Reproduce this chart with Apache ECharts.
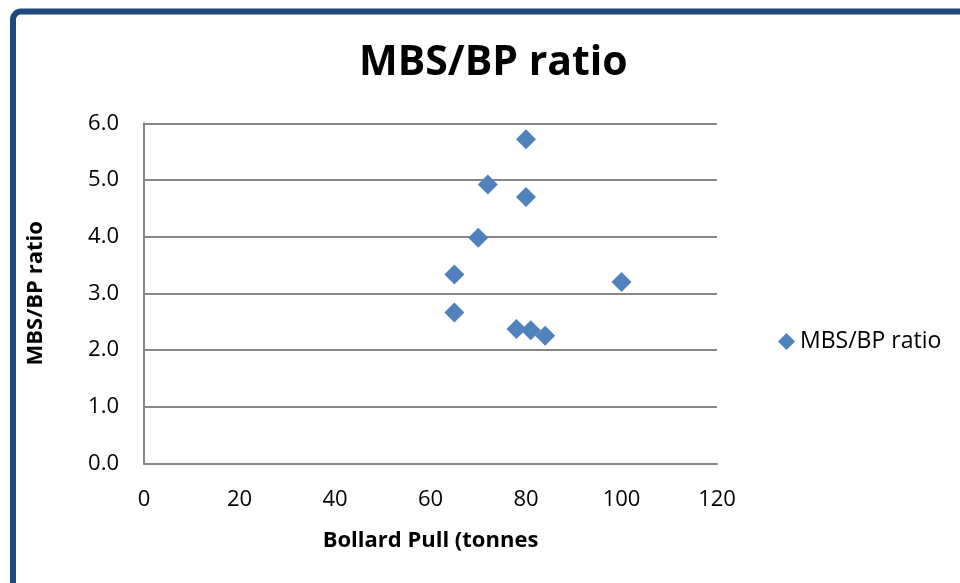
<!DOCTYPE html>
<html>
<head>
<meta charset="utf-8">
<script src="https://cdn.jsdelivr.net/npm/echarts@6/dist/echarts.min.js"></script>
<style>html,body{margin:0;padding:0;background:#fff}#c{width:960px;height:583px}</style>
</head>
<body>
<div id="c"></div>
<script>
const bollardPull = [80, 72, 80, 70, 65, 100, 65, 78, 81, 84];
const mbsBpRatio = [5.72, 4.92, 4.70, 3.98, 3.33, 3.20, 2.66, 2.37, 2.35, 2.25];
const seriesName = 'MBS/BP ratio';
const chartTitle = 'MBS/BP ratio';
const xAxisTitle = 'Bollard Pull (tonnes';
const yAxisTitle = 'MBS/BP ratio';

const FONT = 'Open Sans';
const chart = echarts.init(document.getElementById('c'));
chart.setOption({
  animation: false,
  backgroundColor: '#fff',
  textStyle: { fontFamily: FONT },
  graphic: [{
    type: 'rect',
    shape: { x: 13, y: 11.5, width: 1000, height: 700, r: 8 },
    style: { fill: 'none', stroke: '#1F497D', lineWidth: 6 },
    z: 100
  }],
  title: {
    text: chartTitle,
    left: 359,
    top: 43,
    padding: 0,
    textStyle: { fontFamily: FONT, fontSize: 41, fontWeight: 'bold', color: '#000' }
  },
  legend: {
    orient: 'vertical',
    left: 773,
    top: 325,
    itemWidth: 17,
    itemHeight: 17,
    itemGap: 5,
    textStyle: { fontFamily: FONT, fontSize: 23, color: '#000' },
    data: [{ name: seriesName, icon: 'diamond' }]
  },
  grid: { left: 144, right: 243, top: 123.3, bottom: 119.7, containLabel: false },
  xAxis: {
    type: 'value',
    min: 0, max: 120, interval: 20,
    name: xAxisTitle,
    nameLocation: 'middle',
    nameGap: 66,
    nameTextStyle: { fontFamily: FONT, fontSize: 22, fontWeight: 'bold', color: '#000' },
    axisLine: { show: true, lineStyle: { color: '#868686', width: 2 } },
    axisTick: { show: false },
    splitLine: { show: false },
    axisLabel: { margin: 25, fontFamily: FONT, fontSize: 22, color: '#000' }
  },
  yAxis: {
    type: 'value',
    min: 0, max: 6, interval: 1,
    name: yAxisTitle,
    nameLocation: 'middle',
    nameGap: 97,
    nameTextStyle: { fontFamily: FONT, fontSize: 22, fontWeight: 'bold', color: '#000' },
    axisLine: { show: true, lineStyle: { color: '#868686', width: 2 } },
    axisTick: { show: false },
    splitLine: { show: true, lineStyle: { color: '#868686', width: 2 } },
    axisLabel: { margin: 25, fontFamily: FONT, fontSize: 22, color: '#000', formatter: v => v.toFixed(1) }
  },
  series: [{
    name: seriesName,
    type: 'scatter',
    symbol: 'diamond',
    symbolSize: 20,
    itemStyle: { color: '#4F81BD', opacity: 1 },
    data: bollardPull.map((x, i) => [x, mbsBpRatio[i]])
  }]
});
</script>
</body>
</html>
